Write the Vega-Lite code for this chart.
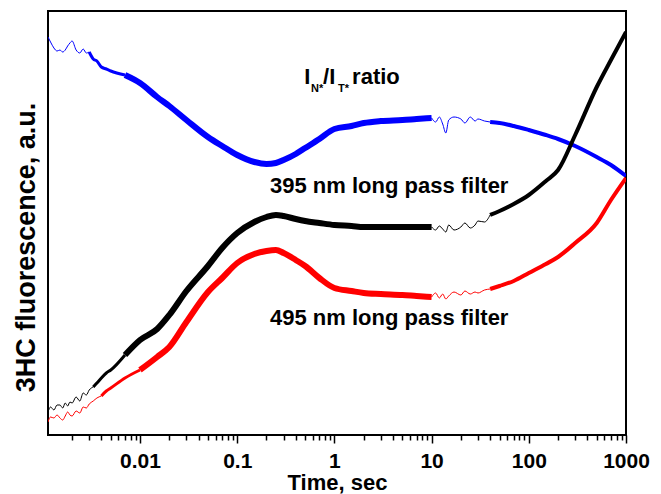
{
  "$schema": "https://vega.github.io/schema/vega-lite/v6.json",
  "width": 578,
  "height": 424,
  "autosize": "none",
  "padding": {"left": 48, "top": 11, "right": 35, "bottom": 59},
  "background": "#ffffff",
  "config": {"view": {"stroke": "#000000", "strokeWidth": 2}, "font": "Liberation Sans"},
  "datasets": {
    "curves": [
      {"series":"ratio","sampling":"sparse","t":0.00113,"v":398},{"series":"ratio","sampling":"sparse","t":0.0012,"v":393},{"series":"ratio","sampling":"sparse","t":0.0013,"v":387},{"series":"ratio","sampling":"sparse","t":0.0014,"v":384},{"series":"ratio","sampling":"sparse","t":0.0015,"v":385},{"series":"ratio","sampling":"sparse","t":0.0016,"v":383},{"series":"ratio","sampling":"sparse","t":0.0017,"v":385},{"series":"ratio","sampling":"sparse","t":0.0018,"v":389},{"series":"ratio","sampling":"sparse","t":0.0019,"v":392},{"series":"ratio","sampling":"sparse","t":0.002,"v":394},{"series":"ratio","sampling":"sparse","t":0.0022,"v":385},{"series":"ratio","sampling":"sparse","t":0.0024,"v":382},{"series":"ratio","sampling":"sparse","t":0.0026,"v":386},{"series":"ratio","sampling":"sparse","t":0.0028,"v":382},{"series":"ratio","sampling":"sparse","t":0.003,"v":383},
      {"series":"ratio","sampling":"mid","t":0.003,"v":383},{"series":"ratio","sampling":"mid","t":0.0033,"v":376},{"series":"ratio","sampling":"mid","t":0.0036,"v":374},{"series":"ratio","sampling":"mid","t":0.004,"v":368},{"series":"ratio","sampling":"mid","t":0.0045,"v":366},{"series":"ratio","sampling":"mid","t":0.005,"v":364},{"series":"ratio","sampling":"mid","t":0.007,"v":360},
      {"series":"ratio","sampling":"dense","t":0.007,"v":360},{"series":"ratio","sampling":"dense","t":0.01,"v":352},{"series":"ratio","sampling":"dense","t":0.015,"v":338},{"series":"ratio","sampling":"dense","t":0.02,"v":329},{"series":"ratio","sampling":"dense","t":0.03,"v":315},{"series":"ratio","sampling":"dense","t":0.05,"v":298},{"series":"ratio","sampling":"dense","t":0.07,"v":289},{"series":"ratio","sampling":"dense","t":0.1,"v":280},{"series":"ratio","sampling":"dense","t":0.15,"v":273},{"series":"ratio","sampling":"dense","t":0.2,"v":271},{"series":"ratio","sampling":"dense","t":0.25,"v":272},{"series":"ratio","sampling":"dense","t":0.3,"v":275},{"series":"ratio","sampling":"dense","t":0.4,"v":281},{"series":"ratio","sampling":"dense","t":0.5,"v":287},{"series":"ratio","sampling":"dense","t":0.7,"v":296},{"series":"ratio","sampling":"dense","t":1,"v":306},{"series":"ratio","sampling":"dense","t":1.5,"v":309},{"series":"ratio","sampling":"dense","t":2,"v":312},{"series":"ratio","sampling":"dense","t":3,"v":314},{"series":"ratio","sampling":"dense","t":5,"v":315},{"series":"ratio","sampling":"dense","t":7,"v":316},{"series":"ratio","sampling":"dense","t":10,"v":317},
      {"series":"ratio","sampling":"sparse2","t":10,"v":317},{"series":"ratio","sampling":"sparse2","t":11,"v":313},{"series":"ratio","sampling":"sparse2","t":12,"v":318},{"series":"ratio","sampling":"sparse2","t":13,"v":311},{"series":"ratio","sampling":"sparse2","t":14,"v":302},{"series":"ratio","sampling":"sparse2","t":15,"v":315},{"series":"ratio","sampling":"sparse2","t":17,"v":318},{"series":"ratio","sampling":"sparse2","t":20,"v":316},{"series":"ratio","sampling":"sparse2","t":22,"v":312},{"series":"ratio","sampling":"sparse2","t":25,"v":318},{"series":"ratio","sampling":"sparse2","t":28,"v":314},{"series":"ratio","sampling":"sparse2","t":30,"v":316},{"series":"ratio","sampling":"sparse2","t":35,"v":314},{"series":"ratio","sampling":"sparse2","t":40,"v":313},
      {"series":"ratio","sampling":"late","t":40,"v":313},{"series":"ratio","sampling":"late","t":50,"v":312},{"series":"ratio","sampling":"late","t":70,"v":309},{"series":"ratio","sampling":"late","t":100,"v":305},{"series":"ratio","sampling":"late","t":150,"v":300},{"series":"ratio","sampling":"late","t":200,"v":296},{"series":"ratio","sampling":"late","t":300,"v":289},{"series":"ratio","sampling":"late","t":500,"v":278},{"series":"ratio","sampling":"late","t":700,"v":270},{"series":"ratio","sampling":"late","t":1000,"v":259},

      {"series":"495","sampling":"sparse","t":0.00113,"v":13},{"series":"495","sampling":"sparse","t":0.0012,"v":18},{"series":"495","sampling":"sparse","t":0.0013,"v":17},{"series":"495","sampling":"sparse","t":0.0014,"v":20},{"series":"495","sampling":"sparse","t":0.0015,"v":17},{"series":"495","sampling":"sparse","t":0.0016,"v":15},{"series":"495","sampling":"sparse","t":0.0017,"v":19},{"series":"495","sampling":"sparse","t":0.0018,"v":23},{"series":"495","sampling":"sparse","t":0.0019,"v":20},{"series":"495","sampling":"sparse","t":0.002,"v":19},{"series":"495","sampling":"sparse","t":0.0022,"v":24},{"series":"495","sampling":"sparse","t":0.0024,"v":22},{"series":"495","sampling":"sparse","t":0.0026,"v":28},{"series":"495","sampling":"sparse","t":0.0028,"v":27},{"series":"495","sampling":"sparse","t":0.003,"v":31},{"series":"495","sampling":"sparse","t":0.0033,"v":34},{"series":"495","sampling":"sparse","t":0.0036,"v":37},{"series":"495","sampling":"sparse","t":0.004,"v":39},
      {"series":"495","sampling":"mid","t":0.004,"v":39},{"series":"495","sampling":"mid","t":0.0045,"v":44},{"series":"495","sampling":"mid","t":0.005,"v":47},{"series":"495","sampling":"mid","t":0.007,"v":57},{"series":"495","sampling":"mid","t":0.01,"v":65},
      {"series":"495","sampling":"dense","t":0.01,"v":65},{"series":"495","sampling":"dense","t":0.015,"v":78},{"series":"495","sampling":"dense","t":0.02,"v":88},{"series":"495","sampling":"dense","t":0.03,"v":113},{"series":"495","sampling":"dense","t":0.05,"v":143},{"series":"495","sampling":"dense","t":0.07,"v":157},{"series":"495","sampling":"dense","t":0.1,"v":172},{"series":"495","sampling":"dense","t":0.15,"v":181},{"series":"495","sampling":"dense","t":0.2,"v":184},{"series":"495","sampling":"dense","t":0.25,"v":185},{"series":"495","sampling":"dense","t":0.3,"v":182},{"series":"495","sampling":"dense","t":0.4,"v":175},{"series":"495","sampling":"dense","t":0.5,"v":169},{"series":"495","sampling":"dense","t":0.7,"v":157},{"series":"495","sampling":"dense","t":1,"v":147},{"series":"495","sampling":"dense","t":1.5,"v":144},{"series":"495","sampling":"dense","t":2,"v":142},{"series":"495","sampling":"dense","t":3,"v":141},{"series":"495","sampling":"dense","t":5,"v":140},{"series":"495","sampling":"dense","t":7,"v":139},{"series":"495","sampling":"dense","t":10,"v":138},
      {"series":"495","sampling":"sparse2","t":10,"v":138},{"series":"495","sampling":"sparse2","t":11,"v":142},{"series":"495","sampling":"sparse2","t":12,"v":137},{"series":"495","sampling":"sparse2","t":13,"v":141},{"series":"495","sampling":"sparse2","t":14,"v":136},{"series":"495","sampling":"sparse2","t":15,"v":139},{"series":"495","sampling":"sparse2","t":17,"v":143},{"series":"495","sampling":"sparse2","t":20,"v":140},{"series":"495","sampling":"sparse2","t":22,"v":144},{"series":"495","sampling":"sparse2","t":25,"v":141},{"series":"495","sampling":"sparse2","t":28,"v":143},{"series":"495","sampling":"sparse2","t":30,"v":142},{"series":"495","sampling":"sparse2","t":35,"v":145},{"series":"495","sampling":"sparse2","t":40,"v":146},
      {"series":"495","sampling":"late","t":40,"v":146},{"series":"495","sampling":"late","t":50,"v":149},{"series":"495","sampling":"late","t":70,"v":154},{"series":"495","sampling":"late","t":100,"v":162},{"series":"495","sampling":"late","t":150,"v":171},{"series":"495","sampling":"late","t":200,"v":178},{"series":"495","sampling":"late","t":300,"v":192},{"series":"495","sampling":"late","t":500,"v":212},{"series":"495","sampling":"late","t":700,"v":235},{"series":"495","sampling":"late","t":1000,"v":257},

      {"series":"395","sampling":"sparse","t":0.00113,"v":23},{"series":"395","sampling":"sparse","t":0.0012,"v":28},{"series":"395","sampling":"sparse","t":0.0013,"v":25},{"series":"395","sampling":"sparse","t":0.0014,"v":30},{"series":"395","sampling":"sparse","t":0.0015,"v":30},{"series":"395","sampling":"sparse","t":0.0016,"v":27},{"series":"395","sampling":"sparse","t":0.0017,"v":32},{"series":"395","sampling":"sparse","t":0.0018,"v":29},{"series":"395","sampling":"sparse","t":0.0019,"v":33},{"series":"395","sampling":"sparse","t":0.002,"v":32},{"series":"395","sampling":"sparse","t":0.0022,"v":38},{"series":"395","sampling":"sparse","t":0.0024,"v":34},{"series":"395","sampling":"sparse","t":0.0026,"v":42},{"series":"395","sampling":"sparse","t":0.0028,"v":40},{"series":"395","sampling":"sparse","t":0.003,"v":45},{"series":"395","sampling":"sparse","t":0.0033,"v":48},
      {"series":"395","sampling":"mid","t":0.0033,"v":48},{"series":"395","sampling":"mid","t":0.0036,"v":52},{"series":"395","sampling":"mid","t":0.004,"v":57},{"series":"395","sampling":"mid","t":0.0045,"v":62},{"series":"395","sampling":"mid","t":0.005,"v":65},{"series":"395","sampling":"mid","t":0.007,"v":80},
      {"series":"395","sampling":"dense","t":0.007,"v":80},{"series":"395","sampling":"dense","t":0.01,"v":95},{"series":"395","sampling":"dense","t":0.015,"v":106},{"series":"395","sampling":"dense","t":0.02,"v":120},{"series":"395","sampling":"dense","t":0.03,"v":144},{"series":"395","sampling":"dense","t":0.05,"v":169},{"series":"395","sampling":"dense","t":0.07,"v":187},{"series":"395","sampling":"dense","t":0.1,"v":202},{"series":"395","sampling":"dense","t":0.15,"v":213},{"series":"395","sampling":"dense","t":0.2,"v":218},{"series":"395","sampling":"dense","t":0.25,"v":220},{"series":"395","sampling":"dense","t":0.3,"v":219},{"series":"395","sampling":"dense","t":0.4,"v":216},{"series":"395","sampling":"dense","t":0.5,"v":214},{"series":"395","sampling":"dense","t":0.7,"v":212},{"series":"395","sampling":"dense","t":1,"v":210},{"series":"395","sampling":"dense","t":1.5,"v":209},{"series":"395","sampling":"dense","t":2,"v":208},{"series":"395","sampling":"dense","t":3,"v":208},{"series":"395","sampling":"dense","t":5,"v":208},{"series":"395","sampling":"dense","t":7,"v":208},{"series":"395","sampling":"dense","t":10,"v":208},
      {"series":"395","sampling":"sparse2","t":10,"v":208},{"series":"395","sampling":"sparse2","t":11,"v":205},{"series":"395","sampling":"sparse2","t":12,"v":209},{"series":"395","sampling":"sparse2","t":13,"v":206},{"series":"395","sampling":"sparse2","t":14,"v":203},{"series":"395","sampling":"sparse2","t":15,"v":210},{"series":"395","sampling":"sparse2","t":17,"v":205},{"series":"395","sampling":"sparse2","t":20,"v":208},{"series":"395","sampling":"sparse2","t":22,"v":212},{"series":"395","sampling":"sparse2","t":25,"v":207},{"series":"395","sampling":"sparse2","t":28,"v":210},{"series":"395","sampling":"sparse2","t":30,"v":214},{"series":"395","sampling":"sparse2","t":35,"v":213},{"series":"395","sampling":"sparse2","t":40,"v":220},
      {"series":"395","sampling":"late","t":40,"v":220},{"series":"395","sampling":"late","t":50,"v":224},{"series":"395","sampling":"late","t":70,"v":231},{"series":"395","sampling":"late","t":100,"v":240},{"series":"395","sampling":"late","t":150,"v":254},{"series":"395","sampling":"late","t":200,"v":265},{"series":"395","sampling":"late","t":300,"v":300},{"series":"395","sampling":"late","t":500,"v":348},{"series":"395","sampling":"late","t":700,"v":375},{"series":"395","sampling":"late","t":1000,"v":403}
    ],
    "labels": [
      {"t":0.49,"v":351,"label":"I"},
      {"t":0.764,"v":351,"label":"/I"},
      {"t":1.52,"v":351,"label":"ratio"},
      {"t":0.2175,"v":242,"label":"395 nm long pass filter"},
      {"t":0.2175,"v":110,"label":"495 nm long pass filter"}
    ],
    "subs": [
      {"t":0.574,"v":343,"label":"N*"},
      {"t":1.089,"v":343,"label":"T*"}
    ]
  },
  "layer": [
    {
      "data": {"name": "curves"},
      "mark": {"type": "line", "strokeJoin": "round", "interpolate": "monotone", "clip": true},
      "encoding": {
        "x": {
          "field": "t", "type": "quantitative",
          "scale": {"type": "log", "domain": [0.00113, 1000], "nice": false},
          "axis": {
            "title": "Time, sec",
            "values": [0.002,0.003,0.004,0.005,0.006,0.007,0.008,0.009,0.01,0.02,0.03,0.04,0.05,0.06,0.07,0.08,0.09,0.1,0.2,0.3,0.4,0.5,0.6,0.7,0.8,0.9,1,2,3,4,5,6,7,8,9,10,20,30,40,50,60,70,80,90,100,200,300,400,500,600,700,800,900,1000],
            "labelExpr": "indexof([0.01,0.1,1,10,100,1000], datum.value) >= 0 ? format(datum.value, '~g') : ''",
            "labelOverlap": false,
            "labelFlush": false,
            "grid": false,
            "domain": false,
            "tickColor": "#000000",
            "tickWidth": 1.5,
            "tickSize": {"condition": {"test": "indexof([0.01,0.1,1,10,100,1000], datum.value) >= 0", "value": 8}, "value": 5},
            "labelFont": "Liberation Sans",
            "labelFontSize": 21,
            "labelFontWeight": "bold",
            "labelColor": "#000000",
            "labelPadding": 7,
            "titleFont": "Liberation Sans",
            "titleFontSize": 22,
            "titleFontWeight": "bold",
            "titleColor": "#000000",
            "titlePadding": 1
          }
        },
        "y": {
          "field": "v", "type": "quantitative",
          "scale": {"domain": [0, 424], "nice": false, "zero": false},
          "axis": {
            "title": "3HC fluorescence, a.u.",
            "labels": false, "ticks": false, "domain": false, "grid": false,
            "titleFont": "Liberation Sans",
            "titleFontSize": 27,
            "titleFontWeight": "bold",
            "titleColor": "#000000",
            "titlePadding": 8,
            "titleY": 236
          }
        },
        "color": {
          "field": "series", "type": "nominal",
          "scale": {"domain": ["ratio", "395", "495"], "range": ["#0000ff", "#000000", "#ff0000"]},
          "legend": null
        },
        "strokeWidth": {
          "field": "sampling", "type": "nominal",
          "scale": {"type": "ordinal", "domain": ["sparse", "mid", "dense", "sparse2", "late"], "range": [1, 3, 6, 1, 4]},
          "legend": null
        }
      }
    },
    {
      "data": {"name": "labels"},
      "mark": {"type": "text", "align": "left", "baseline": "alphabetic", "font": "Liberation Sans", "fontSize": 22, "fontWeight": "bold", "color": "#000000"},
      "encoding": {
        "x": {"field": "t", "type": "quantitative"},
        "y": {"field": "v", "type": "quantitative"},
        "text": {"field": "label"}
      }
    },
    {
      "data": {"name": "subs"},
      "mark": {"type": "text", "align": "left", "baseline": "alphabetic", "font": "Liberation Sans", "fontSize": 11, "fontWeight": "bold", "color": "#000000"},
      "encoding": {
        "x": {"field": "t", "type": "quantitative"},
        "y": {"field": "v", "type": "quantitative"},
        "text": {"field": "label"}
      }
    }
  ]
}
